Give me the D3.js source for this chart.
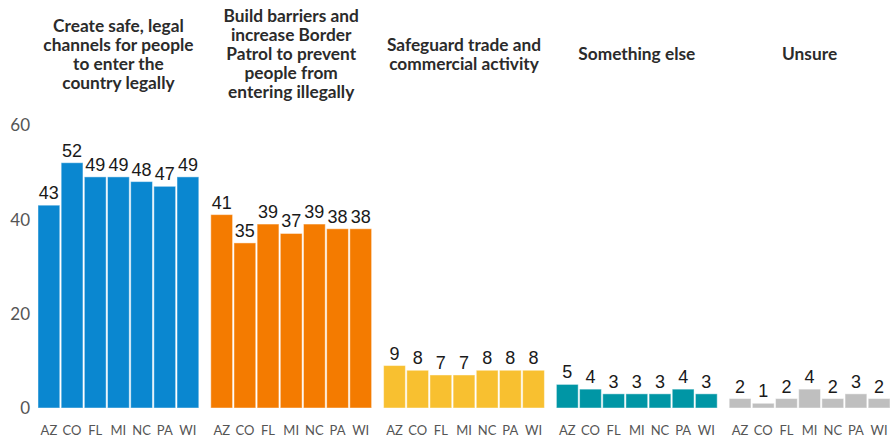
<!DOCTYPE html>
<html>
<head>
<meta charset="utf-8">
<script src="https://cdn.jsdelivr.net/npm/d3@7"></script>
<style>
  body { margin: 0; background: #fff; }
  svg { display: block; }
  .title { font-family: Lato, "Open Sans", sans-serif; font-weight: 700; font-size: 17.3px; fill: #2b2b2b; }
  .val { font-family: "Liberation Sans", Arial, sans-serif; font-size: 18px; fill: #1a1a1a; }
  .axis text { font-family: Lato, sans-serif; fill: #555; }
  .axis path, .axis line { display: none; }
</style>
</head>
<body>
<div id="chart"></div>
<script>
// data
const states = ["AZ", "CO", "FL", "MI", "NC", "PA", "WI"];
const answers = [
    "Create safe, legal|channels for people|to enter the|country legally",
    "Build barriers and|increase Border|Patrol to prevent|people from|entering illegally",
    "Safeguard trade and|commercial activity",
    "Something else",
    "Unsure"
];
const legalChannels = [43, 52, 49, 49, 48, 47, 49];
const buildBarriers = [41, 35, 39, 37, 39, 38, 38];
const safeguardTrade = [9, 8, 7, 7, 8, 8, 8];
const somethingElse = [5, 4, 3, 3, 3, 4, 3];
const unsure = [2, 1, 2, 4, 2, 3, 2];
const yTicks = [0, 20, 40, 60];
const colors = ["#0a87d0", "#f47b00", "#f8c030", "#0096a5", "#bfbfbf"];

const series = [legalChannels, buildBarriers, safeguardTrade, somethingElse, unsure];

const width = 890;
const height = 439;
const margin = { top: 125, right: 0, bottom: 31, left: 38 };
const panelGap = 12;

const svg = d3.select("#chart")
              .append("svg")
              .attr("width", width)
              .attr("height", height);

const yScale = d3.scaleLinear()
                 .domain([0, 60])
                 .range([height - margin.bottom, margin.top]);

// panels: each band = panel + gap, last gap falls off the right edge
const panelScale = d3.scaleBand()
                     .domain(d3.range(answers.length))
                     .range([margin.left, width - margin.right + panelGap])
                     .paddingInner(0);

const panelWidth = panelScale.bandwidth() - panelGap;

// y axis
svg.append("g")
   .attr("class", "axis")
   .attr("transform", "translate(30, 0)")
   .call(d3.axisLeft(yScale).tickValues(yTicks).tickSize(0).tickPadding(0))
   .selectAll("text")
   .style("font-size", "17px")
   .attr("dy", "0.35em");

answers.forEach((title, i) => {
    const x0 = panelScale(i);
    const xScale = d3.scaleBand()
                     .domain(states)
                     .range([x0, x0 + panelWidth])
                     .paddingInner(0.06)
                     .paddingOuter(0);

    const g = svg.append("g");

    g.selectAll("rect")
     .data(series[i])
     .enter()
     .append("rect")
     .attr("x", (d, j) => xScale(states[j]))
     .attr("y", (d) => yScale(d))
     .attr("width", xScale.bandwidth())
     .attr("height", (d) => yScale(0) - yScale(d))
     .attr("fill", colors[i])
     .attr("stroke", "rgba(255,255,255,0.45)")
     .attr("stroke-width", 1);

    g.selectAll("text.val")
     .data(series[i])
     .enter()
     .append("text")
     .attr("class", "val")
     .attr("x", (d, j) => xScale(states[j]) + xScale.bandwidth() / 2)
     .attr("y", (d) => yScale(d) - 6)
     .attr("text-anchor", "middle")
     .text((d) => d);

    g.append("g")
     .attr("class", "axis")
     .attr("transform", "translate(0, " + (height - margin.bottom + 18) + ")")
     .call(d3.axisBottom(xScale).tickSize(0).tickPadding(0))
     .selectAll("text")
     .style("font-size", "13px");

    // title, centred vertically around y = 54
    const lines = title.split("|");
    const lineH = 19;
    const startY = 54 - (lines.length - 1) * lineH / 2;
    const t = g.append("text")
               .attr("class", "title")
               .attr("text-anchor", "middle");
    lines.forEach((ln, k) => {
        t.append("tspan")
         .attr("x", x0 + panelWidth / 2)
         .attr("y", startY + k * lineH)
         .attr("dy", "0.35em")
         .text(ln);
    });
});
</script>
</body>
</html>
